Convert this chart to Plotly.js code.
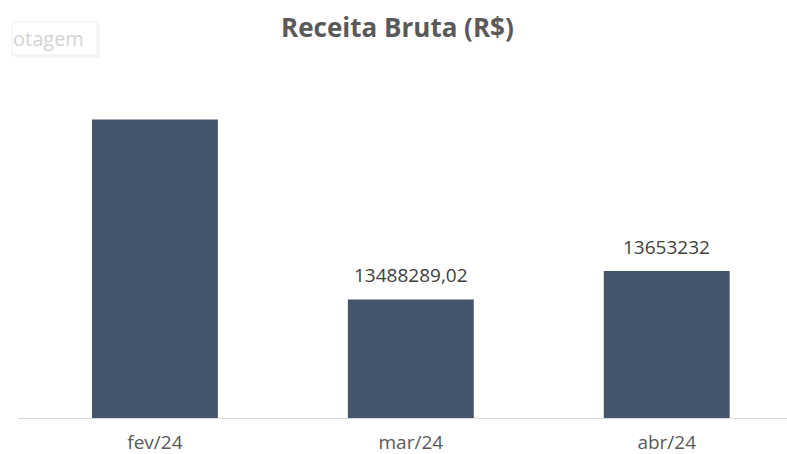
<!DOCTYPE html>
<html><head><meta charset="utf-8">
<script src="https://cdn.plot.ly/plotly-3.0.1.min.js"></script>
<style>html,body{margin:0;padding:0;background:#fff;}#chart{width:787px;height:454px;}</style>
</head><body><div id="chart"></div>
<script>
// Data
var categories = ['fev/24', 'mar/24', 'abr/24'];
var receita = [14533000, 13488289.02, 13653232];
var labelTexts = ['', '13488289,02', '13653232'];
var chartTitle = 'Receita Bruta (R$)';
var buttonText = 'otagem';

var W = 787, H = 454, L = 18, R = 0, T = 80, B = 36;
function px2x(px){ return (px - L) / (W - L - R); }
function py2y(py){ return (H - B - py) / (H - T - B); }

var annotations = [];
for (var i = 0; i < categories.length; i++) {
  if (!labelTexts[i]) continue;
  annotations.push({
    x: categories[i], y: receita[i], xref: 'x', yref: 'y',
    text: labelTexts[i], showarrow: false, yanchor: 'bottom', yshift: 9,
    font: {family: 'Open Sans, sans-serif', size: 19, color: '#404040'}
  });
}
annotations.push({
  xref: 'paper', yref: 'paper', x: px2x(11), y: py2y(39), xanchor: 'left', yanchor: 'middle',
  text: buttonText, showarrow: false,
  font: {family: 'Open Sans, sans-serif', size: 20, color: '#d3d3d3'}
});

var data = [{
  type: 'bar', x: categories, y: receita,
  marker: {color: '#44546A'}, hoverinfo: 'none'
}];

var layout = {
  width: W, height: H,
  margin: {l: L, r: R, t: T, b: B},
  paper_bgcolor: '#ffffff', plot_bgcolor: '#ffffff',
  title: {text: '<b>' + chartTitle + '</b>', x: 0.505, xanchor: 'center', y: 0.938, yanchor: 'middle',
          font: {family: 'Open Sans, sans-serif', size: 26, color: '#595959'}},
  bargap: 0.508,
  showlegend: false,
  xaxis: {type: 'category', range: [-0.535, 2.47], showline: true, linecolor: '#d9d9d9', linewidth: 1,
          showgrid: false, zeroline: false, ticks: '', ticklabelstandoff: 7,
          tickfont: {family: 'Open Sans, sans-serif', size: 19, color: '#595959'}},
  yaxis: {range: [12800000, 14762000], visible: false, showgrid: false, zeroline: false},
  shapes: [
    {type: 'rect', xref: 'paper', yref: 'paper', x0: px2x(15), x1: px2x(100), y0: py2y(58), y1: py2y(25),
     line: {width: 0}, fillcolor: 'rgba(0,0,0,0.035)', layer: 'below'},
    {type: 'rect', xref: 'paper', yref: 'paper', x0: px2x(12), x1: px2x(97), y0: py2y(55), y1: py2y(22),
     line: {color: '#eeeeee', width: 1}, fillcolor: '#ffffff', layer: 'below'}
  ],
  annotations: annotations
};

Plotly.newPlot('chart', data, layout, {displayModeBar: false, staticPlot: true});
</script></body></html>
